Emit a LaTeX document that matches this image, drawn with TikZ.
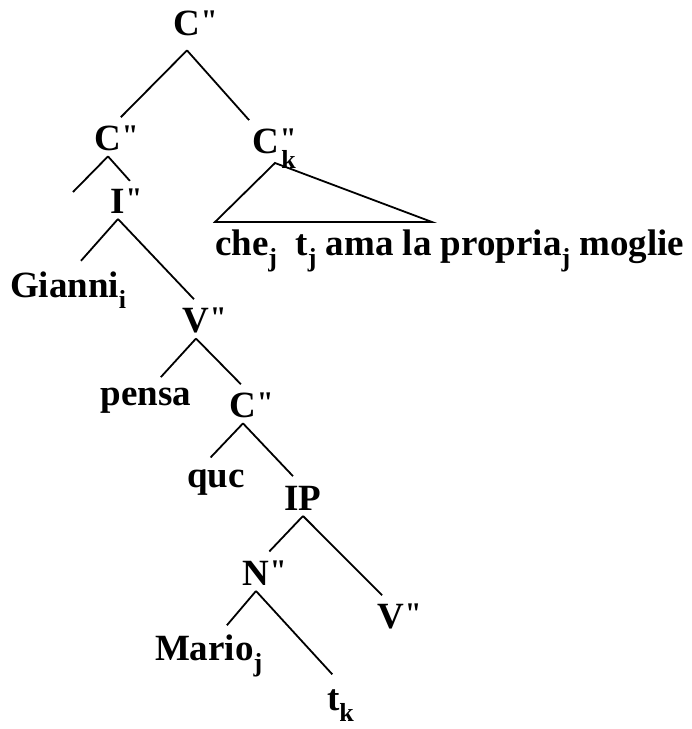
\documentclass[tikz,border=0pt]{standalone}
\usepackage{fontspec}
\setmainfont{Liberation Serif}[Ligatures=TeXOff]
\usetikzlibrary{positioning}
\newcommand{\pr}{\rlap{\kern0.5pt\raisebox{5pt}{\fontsize{30}{30}\selectfont"}}}
\newcommand{\ix}[2][11pt]{\raisebox{-#1}{\fontsize{26}{26}\selectfont #2}}
\newcommand{\rix}[1]{\rlap{\kern2pt\ix[15pt]{#1}}}
\tikzset{
  cat/.style={font=\fontsize{37}{37}\selectfont\bfseries, inner sep=0pt, outer sep=6pt, anchor=base},
  word/.style={cat, anchor=base west},
  br/.style={line width=1.8pt, shorten >=3pt},
}

\begin{document}
\begin{tikzpicture}[x=1pt, y=-1pt]
  \useasboundingbox (0,0) rectangle (692,729);
  \node[cat, outer sep=15pt] (top) at (187,35) {C\pr};
  \node[cat] (cl) at (108,150) {C\pr};
  \node[cat] (ck) at (266,153) {C\pr\rix{k}};
  \node[cat] (ibar) at (118,213) {I\pr};
  \node[word] (gianni) at (4,297) {Gianni\ix{i}};
  \node[cat] (vbar) at (196,332) {V\pr};
  \node[cat] (pensa) at (146,405) {pensa};
  \node[cat] (cm) at (243,417) {C\pr};
  \node[cat] (que) at (216,487) {quc};
  \node[cat] (ip) at (303,510) {IP};
  \node[cat] (nbar) at (256,585) {N\pr};
  \node[cat] (vlow) at (391,628) {V\pr};
  \node[word] (mario) at (149,660) {Mario\ix{j}};
  \node[word] (tk) at (321,710) {t\ix{k}};
  \node[word] (che) at (209,255) {che\ix{j}\ \ t\ix{j} ama la propria\ix{j} moglie};
  \coordinate (cdang) at (73,192);
  \coordinate (tri) at (275,163);
  \coordinate (tl) at (215,222);
  \coordinate (tr) at (432,222);
  \draw[br] (top.south) -- (cl.60); \draw[br] (top.south) -- (ck.120);
  \draw[br, line join=miter] (tri) -- (tl) -- (tr) -- cycle;
  \draw[br, shorten >=0pt] (cl.south) -- (cdang); \draw[br, shorten >=2pt] (cl.south) -- (ibar.north east);
  \draw[br, shorten >=6pt] (ibar.south) -- (gianni.70); \draw[br] (ibar.south) -- (vbar.north);
  \draw[br, shorten >=6pt] (vbar.south) -- (pensa.60); \draw[br] (vbar.south) -- (cm.north);
  \draw[br, shorten >=8pt] (cm.south) -- (que.120); \draw[br, shorten >=5pt] (cm.south) -- (ip.110);
  \draw[br, shorten >=4pt] (ip.south) -- (nbar.60); \draw[br] (ip.south) -- (vlow.110);
  \draw[br, shorten >=4pt] (nbar.south) -- (mario.60); \draw[br, shorten >=12pt] (nbar.south) -- (tk.north);
\end{tikzpicture}
\end{document}
